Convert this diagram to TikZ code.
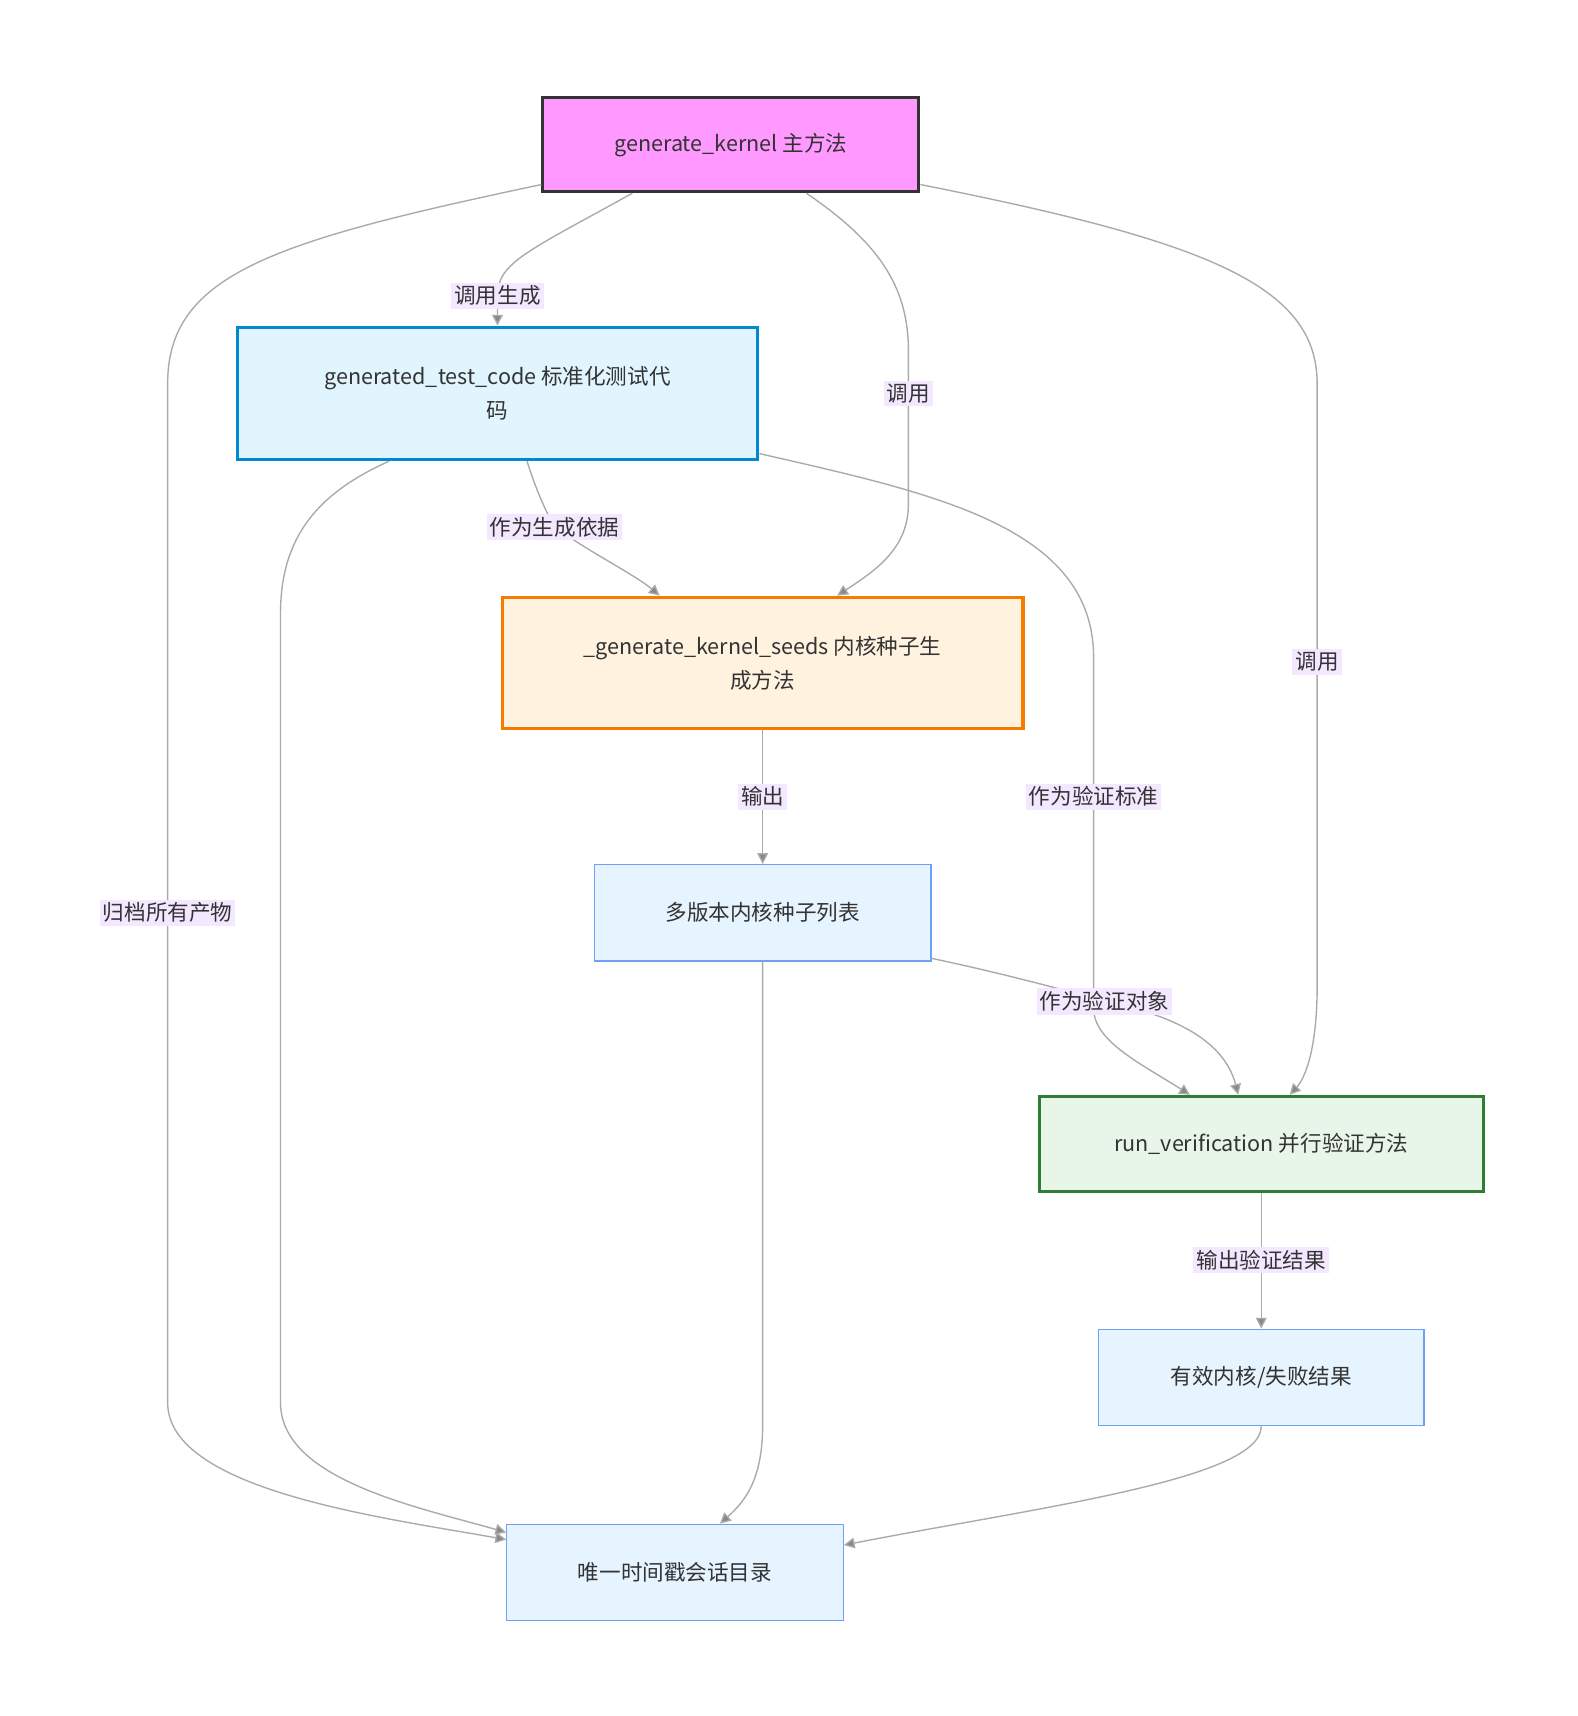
\documentclass[tikz,border=0pt]{standalone}
\usepackage{fontspec}
\setmainfont{Noto Sans CJK SC}
\usetikzlibrary{positioning,arrows.meta,calc}
\definecolor{mainpink}{HTML}{FF99FF}
\definecolor{codeblue}{HTML}{E1F5FE}
\definecolor{codeline}{HTML}{0288D1}
\definecolor{seedfill}{HTML}{FFF3E0}
\definecolor{seedline}{HTML}{F57C00}
\definecolor{datafill}{HTML}{E6F4FF}
\definecolor{dataline}{HTML}{6FA0F5}
\definecolor{verfill}{HTML}{E8F5E9}
\definecolor{verline}{HTML}{2E7D32}
\definecolor{edgegray}{HTML}{AAAAAA}
\definecolor{lblfill}{HTML}{F3E8FF}
\definecolor{txt}{HTML}{333333}

\begin{document}
\begin{tikzpicture}[x=0.025cm, y=-0.025cm,
    box/.style={draw, align=center, text=txt, font=\fontsize{14}{22}\selectfont},
    data/.style={box, fill=datafill, draw=dataline, line width=0.8pt,
                 minimum width=7.675cm, minimum height=2.2cm},
    edge/.style={draw=edgegray, line width=0.9pt,
                 -{Triangle[length=7pt,width=7pt,fill=edgegray!80!black]}},
    lbl/.style={fill=lblfill, text=txt, inner sep=2pt,
                font=\fontsize{14}{16}\selectfont},
]
\useasboundingbox (0,0) rectangle (1440,1566);

\node[box, fill=mainpink, draw=txt, line width=2pt,
      minimum width=8.575cm, minimum height=2.15cm] (gk) at (667,132)
    {generate\_kernel 主方法};
\node[box, fill=codeblue, draw=codeline, line width=2pt,
      minimum width=11.875cm, minimum height=3.025cm] (gtc) at (454,359)
    {generated\_test\_code 标准化测试代\\码};
\node[box, fill=seedfill, draw=seedline, line width=2pt,
      minimum width=11.875cm, minimum height=3.0cm] (seeds) at (696,605)
    {\_generate\_kernel\_seeds 内核种子生\\成方法};
\node[data] (list) at (696,833) {多版本内核种子列表};
\node[box, fill=verfill, draw=verline, line width=2pt,
      minimum width=10.125cm, minimum height=2.175cm] (runv) at (1151,1044)
    {run\_verification 并行验证方法};
\node[data, minimum width=7.425cm] (result) at (1151,1257) {有效内核/失败结果};
\node[data] (dir) at (616,1435) {唯一时间戳会话目录};

% edges from the main method
\draw[edge] ($(gk.south)+(-90,0)$) .. controls (480,230) and (454,240) .. (454,270)
    node[lbl] {调用生成} -- (gtc.north);
\draw[edge] ($(gk.south)+(69,0)$) .. controls (800,220) and (829,260) .. (829,320)
    -- (829,359) node[lbl] {调用} -- (829,460)
    .. controls (829,500) and (800,520) .. ($(seeds.north)+(68,0)$);
\draw[edge] ($(gk.south east)+(0,-8)$) .. controls (1100,220) and (1202,260) .. (1202,350)
    -- (1202,604) node[lbl] {调用} -- (1202,900)
    .. controls (1202,960) and (1190,985) .. ($(runv.north)+(26,0)$);
\draw[edge] ($(gk.south west)+(0,-8)$) .. controls (250,220) and (153,250) .. (153,350)
    -- (153,833) node[lbl] {归档所有产物} -- (153,1280)
    .. controls (153,1360) and (350,1385) .. ($(dir.west)+(0,-30)$);

% edges from the test code
\draw[edge] ($(gtc.south)+(27,0)$) .. controls (490,450) and (500,470) .. (506,481)
    node[lbl] {作为生成依据} .. controls (540,505) and (580,525) .. ($(seeds.north)+(-94,0)$);
\draw[edge] ($(gtc.south east)+(0,-7)$) .. controls (850,450) and (998,480) .. (998,600)
    -- (998,727) node[lbl] {作为验证标准} -- (998,920)
    .. controls (998,950) and (1040,970) .. ($(runv.north)+(-65,0)$);
\draw[edge] ($(gtc.south)+(-99,0)$) .. controls (290,450) and (256,490) .. (256,560)
    -- (256,1280) .. controls (256,1350) and (380,1375) .. ($(dir.north west)+(0,8)$);

% remaining edges
\draw[edge] (seeds.south) -- (696,727) node[lbl] {输出} -- (list.north);
\draw[edge] ($(list.south east)+(0,-3)$) .. controls (900,885) and (960,900) .. (1008,914)
    node[lbl] {作为验证对象} .. controls (1090,930) and (1120,960) .. ($(runv.north)+(-21,0)$);
\draw[edge] (list.south) -- (696,1300) .. controls (696,1350) and (680,1370) .. ($(dir.north)+(41,0)$);
\draw[edge] (runv.south) -- (1151,1150) node[lbl] {输出验证结果} -- (result.north);
\draw[edge] (result.south) .. controls (1151,1350) and (950,1375) .. ($(dir.east)+(0,-25)$);
\end{tikzpicture}
\end{document}
